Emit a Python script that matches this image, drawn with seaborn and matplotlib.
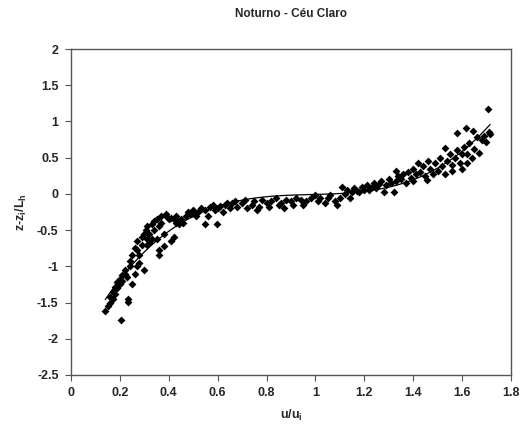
import numpy as np
import pandas as pd
import seaborn as sns
import matplotlib
matplotlib.use("Agg")
import matplotlib.pyplot as plt

title = "Noturno - Céu Claro"
x_label = "u/u$_\\mathregular{i}$"
y_label = "z-z$_\\mathregular{i}$/L$_\\mathregular{h}$"
x_ticks = [0, 0.2, 0.4, 0.6, 0.8, 1, 1.2, 1.4, 1.6, 1.8]
x_tick_labels = ["0", "0.2", "0.4", "0.6", "0.8", "1", "1.2", "1.4", "1.6", "1.8"]
y_ticks = [-2.5, -2, -1.5, -1, -0.5, 0, 0.5, 1, 1.5, 2]
y_tick_labels = ["-2.5", "-2", "-1.5", "-1", "-0.5", "0", "0.5", "1", "1.5", "2"]

# low region
x_low = [0.14, 0.15, 0.16, 0.16, 0.17, 0.17, 0.18, 0.18, 0.19, 0.19, 0.2, 0.2, 0.205, 0.21, 0.21,
         0.22, 0.22, 0.23, 0.235, 0.235, 0.24, 0.24, 0.25, 0.25, 0.26, 0.26, 0.27, 0.27, 0.27, 0.28,
         0.28, 0.29, 0.29, 0.3, 0.3, 0.305, 0.31, 0.31, 0.31, 0.32, 0.32, 0.33, 0.33, 0.34, 0.34,
         0.35, 0.35, 0.36, 0.36, 0.36, 0.37, 0.37, 0.38, 0.38, 0.39, 0.39, 0.4, 0.41, 0.41, 0.42,
         0.42, 0.43, 0.43, 0.44, 0.44, 0.45, 0.46, 0.47, 0.48]
y_low = [-1.62, -1.55, -1.5, -1.42, -1.45, -1.35, -1.28, -1.38, -1.22, -1.3, -1.18, -1.25, -1.74, -1.12, -1.2,
         -1.1, -1.05, -1.15, -1.49, -1.45, -1.0, -0.92, -1.25, -0.85, -1.1, -0.75, -0.78, -0.65, -1.0, -0.95,
         -0.85, -0.7, -0.6, -1.05, -0.55, -0.5, -0.45, -0.62, -0.7, -0.68, -0.55, -0.42, -0.62, -0.38, -0.5,
         -0.35, -0.62, -0.85, -0.78, -0.45, -0.4, -0.3, -0.72, -0.55, -0.3, -0.28, -0.35, -0.65, -0.33, -0.6,
         -0.35, -0.4, -0.3, -0.38, -0.42, -0.35, -0.4, -0.3, -0.25]

# middle region
x_mid = [0.49, 0.5, 0.5, 0.51, 0.52, 0.53, 0.548, 0.55, 0.56, 0.57, 0.58, 0.59, 0.596, 0.6, 0.61,
         0.62, 0.63, 0.64, 0.65, 0.66, 0.67, 0.68, 0.7, 0.71, 0.72, 0.74, 0.75, 0.76, 0.77, 0.78,
         0.8, 0.81, 0.82, 0.84, 0.85, 0.86, 0.87, 0.88, 0.9, 0.91, 0.92, 0.94, 0.95, 0.96, 0.98,
         1.0, 1.01, 1.02, 1.04, 1.05, 1.06, 1.08, 1.09, 1.1, 1.11, 1.12]
y_mid = [-0.28, -0.27, -0.22, -0.3, -0.25, -0.2, -0.42, -0.22, -0.3, -0.18, -0.15, -0.22, -0.42, -0.2, -0.17,
         -0.25, -0.15, -0.12, -0.2, -0.13, -0.1, -0.18, -0.12, -0.08, -0.2, -0.15, -0.1, -0.22, -0.18, -0.08,
         -0.12, -0.18, -0.1, -0.05, -0.15, -0.12, -0.2, -0.08, -0.1, -0.15, -0.05, -0.08, -0.15, -0.1, -0.05,
         -0.02, -0.1, -0.06, -0.12, -0.06, -0.02, -0.1, -0.15, -0.05, 0.1, 0.0]

# upper region
x_up = [1.13, 1.14, 1.15, 1.16, 1.17, 1.18, 1.19, 1.2, 1.21, 1.22, 1.23, 1.24, 1.25, 1.26, 1.27,
        1.28, 1.29, 1.3, 1.31, 1.32, 1.33, 1.33, 1.34, 1.35, 1.36, 1.37, 1.38, 1.39, 1.4, 1.4,
        1.41, 1.42, 1.43, 1.44, 1.45, 1.455, 1.46, 1.47, 1.48, 1.49, 1.5, 1.51, 1.52, 1.53, 1.53,
        1.54, 1.55, 1.56, 1.56, 1.57, 1.578, 1.58, 1.59, 1.6, 1.6, 1.61, 1.615, 1.62, 1.62, 1.63,
        1.64, 1.645, 1.65, 1.66, 1.67, 1.68, 1.69, 1.7, 1.705, 1.71, 1.715]
y_up = [0.05, -0.05, 0.02, 0.08, 0.04, 0.03, 0.1, 0.06, 0.12, 0.05, 0.1, 0.15, 0.08, 0.13, 0.18,
        0.02, 0.12, 0.2, 0.15, 0.02, 0.31, 0.18, 0.25, 0.2, 0.28, 0.15, 0.3, 0.22, 0.35, 0.18,
        0.28, 0.42, 0.3, 0.38, 0.25, 0.19, 0.45, 0.35, 0.28, 0.42, 0.32, 0.5, 0.38, 0.63, 0.28,
        0.45, 0.55, 0.4, 0.32, 0.5, 0.84, 0.6, 0.42, 0.55, 0.35, 0.65, 0.91, 0.42, 0.55, 0.7,
        0.5, 0.87, 0.62, 0.78, 0.57, 0.75, 0.8, 0.72, 1.17, 0.85, 0.83]

df = pd.DataFrame({"u": x_low + x_mid + x_up, "z": y_low + y_mid + y_up})

sns.set_style("white")
plt.rcParams['font.family'] = ['Liberation Sans', 'DejaVu Sans']
plt.rcParams['mathtext.fontset'] = 'custom'
plt.rcParams['mathtext.rm'] = 'Liberation Sans:bold'
plt.rcParams['mathtext.it'] = 'Liberation Sans:bold'
plt.rcParams['mathtext.bf'] = 'Liberation Sans:bold'

fig = plt.figure(figsize=(5.24, 4.30), dpi=100)
ax = fig.add_axes([0.1355, 0.128, 0.8395, 0.758])

sns.regplot(data=df, x="u", y="z", order=3, ci=None, ax=ax, marker="D",
            scatter_kws={"s": 16, "color": "black", "linewidths": 0, "alpha": 1},
            line_kws={"color": "black", "lw": 0.9}, truncate=True)

ax.set_xlim(0, 1.8)
ax.set_ylim(-2.5, 2)
ax.set_xticks(x_ticks)
ax.set_xticklabels(x_tick_labels, fontsize=9, fontweight="bold")
ax.set_yticks(y_ticks)
ax.set_yticklabels(y_tick_labels, fontsize=9, fontweight="bold")
ax.tick_params(axis="both", direction="out", length=4, width=0.8, color="#555555", pad=5,
               bottom=True, left=True)
for s in ax.spines.values():
    s.set_color("#555555")
    s.set_linewidth(1.0)
    s.set_visible(True)

ax.set_xlabel(x_label, fontsize=9, fontweight="bold", labelpad=6)
ax.set_ylabel(y_label, fontsize=9, fontweight="bold", labelpad=6)
fig.text(0.556, 0.967, title, ha="center", va="center", fontsize=8.5, fontweight="bold")

fig.savefig("out.png", dpi=100)
